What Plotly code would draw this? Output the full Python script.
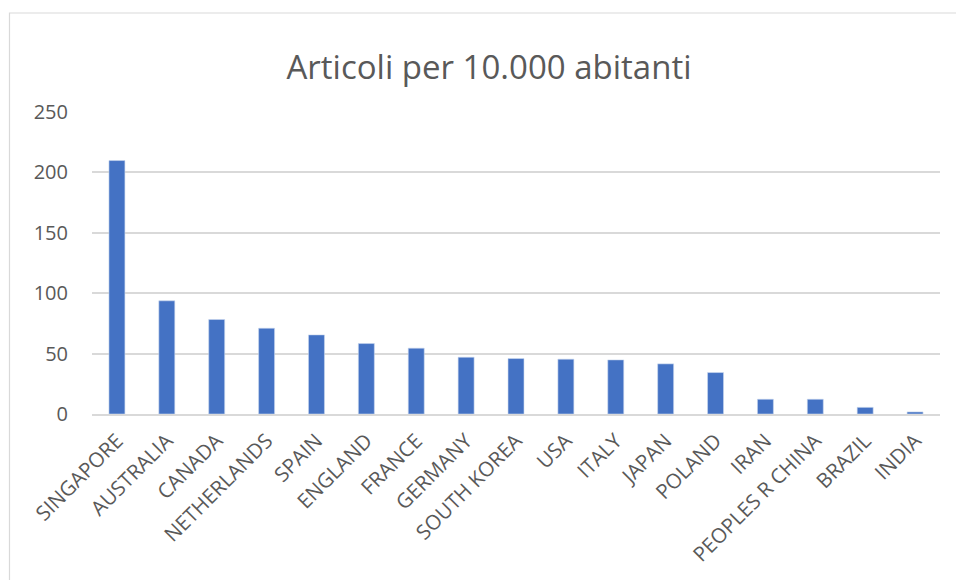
import plotly.graph_objects as go

countries = ["SINGAPORE", "AUSTRALIA", "CANADA", "NETHERLANDS", "SPAIN", "ENGLAND",
             "FRANCE", "GERMANY", "SOUTH KOREA", "USA", "ITALY", "JAPAN", "POLAND",
             "IRAN", "PEOPLES R CHINA", "BRAZIL", "INDIA"]
values = [209.8, 93.7, 78.2, 71.0, 65.5, 58.3, 54.5, 47.0, 45.9, 45.4, 44.8, 41.5,
          34.3, 12.2, 12.2, 5.5, 1.7]
y_ticks = [0, 50, 100, 150, 200, 250]

TEXT = "#595959"
GRID = "#D9D9D9"
FONT = "Open Sans"

fig = go.Figure(go.Bar(
    x=countries, y=values,
    marker=dict(color="#4472C4", line=dict(color="#C9D6EE", width=0.6)),
    hoverinfo="x+y",
))

fig.update_layout(
    width=956, height=580,
    margin=dict(l=92, r=16, t=112, b=166),
    paper_bgcolor="white", plot_bgcolor="white",
    font=dict(family=FONT, color=TEXT, size=19),
    bargap=0.68,
    showlegend=False,
    title=dict(text="Articoli per 10.000 abitanti", x=489/956, xref="container",
               xanchor="center", y=(580-67)/580, yref="container", yanchor="middle",
               font=dict(family=FONT, size=33, color=TEXT)),
    xaxis=dict(tickangle=-45, showgrid=False, showline=True, linecolor=GRID,
               linewidth=1.5, ticks="", tickfont=dict(size=20.5, color=TEXT),
               ticklabelstandoff=5, automargin=False),
    yaxis=dict(range=[0, 250], tickvals=y_ticks, showgrid=True, gridcolor=GRID,
               gridwidth=1.5, zeroline=False, showline=False, ticks="",
               ticklabelstandoff=23, tickfont=dict(size=20, color=TEXT),
               automargin=False),
    shapes=[dict(type="rect", xref="paper", yref="paper",
                 x0=(9.5-92)/848, x1=(975-92)/848,
                 y0=(414-600)/302, y1=(414-13)/302,
                 line=dict(color="#D9D9D9", width=1.2), fillcolor="rgba(0,0,0,0)",
                 layer="below")],
)

fig.write_html("out.html", config={"displayModeBar": False},
               post_script="document.body.style.margin='0';")
